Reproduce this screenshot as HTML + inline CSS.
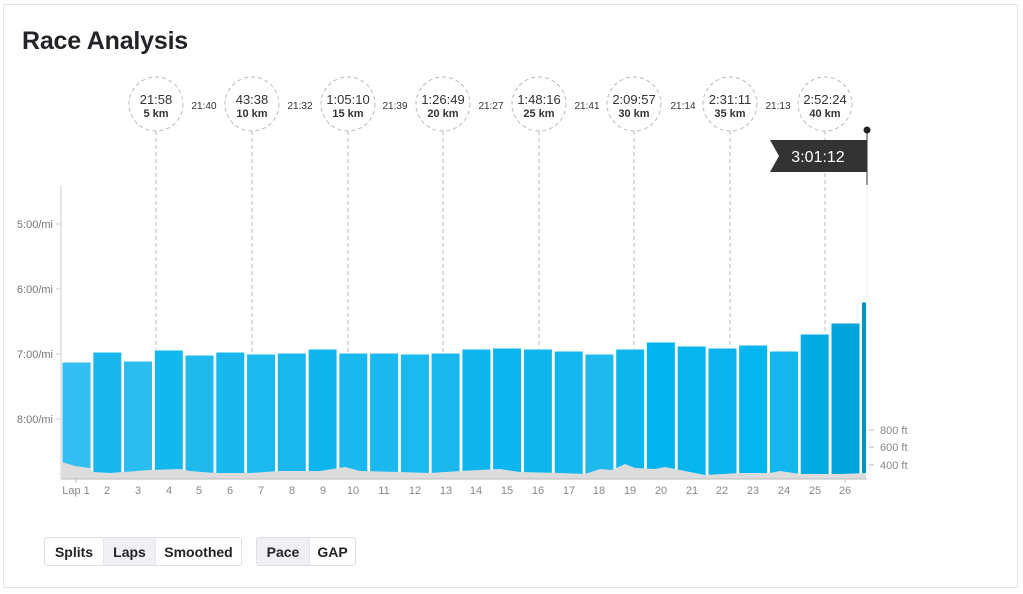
<!DOCTYPE html>
<html><head><meta charset="utf-8"><style>
body{margin:0;background:#fff;font-family:"Liberation Sans",sans-serif;}
.card{position:absolute;left:3px;top:4px;width:1013px;height:582px;border:1px solid #e4e4ea;}
h1{position:absolute;left:22px;top:27px;margin:0;font-size:25px;font-weight:bold;color:#242428;letter-spacing:-0.2px;}
.bg{position:absolute;top:537px;height:27px;border:1px solid #dfdfe5;border-radius:3px;display:flex;font-size:14px;font-weight:bold;color:#242428;}
.bg div{display:flex;align-items:center;justify-content:center;border-right:1px solid #e6e6ea;}
.bg div:last-child{border-right:none}
.on{background:#f0f0f4}
</style></head><body>
<div class="card"></div>
<h1>Race Analysis</h1>
<svg width="1023" height="594" style="position:absolute;left:0;top:0" font-family="Liberation Sans, sans-serif">
<g fill="none" stroke="#bbb" stroke-dasharray="4,3">
<circle cx="156" cy="104" r="27"/><circle cx="252" cy="104" r="27"/><circle cx="348" cy="104" r="27"/><circle cx="443" cy="104" r="27"/><circle cx="539" cy="104" r="27"/><circle cx="634" cy="104" r="27"/><circle cx="730" cy="104" r="27"/><circle cx="825" cy="104" r="27"/>
<line x1="156" y1="131" x2="156" y2="350"/><line x1="252" y1="131" x2="252" y2="354"/><line x1="348" y1="131" x2="348" y2="353"/><line x1="443" y1="131" x2="443" y2="353"/><line x1="539" y1="131" x2="539" y2="349"/><line x1="634" y1="131" x2="634" y2="349"/><line x1="730" y1="131" x2="730" y2="348"/><line x1="825" y1="131" x2="825" y2="334"/>
</g>
<g text-anchor="middle" fill="#333">
<g font-size="13"><text x="156" y="104">21:58</text><text x="252" y="104">43:38</text><text x="348" y="104">1:05:10</text><text x="443" y="104">1:26:49</text><text x="539" y="104">1:48:16</text><text x="634" y="104">2:09:57</text><text x="730" y="104">2:31:11</text><text x="825" y="104">2:52:24</text></g>
<g font-size="11" font-weight="bold"><text x="156" y="117">5 km</text><text x="252" y="117">10 km</text><text x="348" y="117">15 km</text><text x="443" y="117">20 km</text><text x="539" y="117">25 km</text><text x="634" y="117">30 km</text><text x="730" y="117">35 km</text><text x="825" y="117">40 km</text></g>
<g font-size="10"><text x="204" y="109">21:40</text><text x="300" y="109">21:32</text><text x="395" y="109">21:39</text><text x="491" y="109">21:27</text><text x="587" y="109">21:41</text><text x="683" y="109">21:14</text><text x="778" y="109">21:13</text></g>
</g>
<polygon points="770,140 867,140 867,172 770,172 779,156" fill="#333"/>
<text x="818" y="162" font-size="16" fill="#fff" text-anchor="middle">3:01:12</text>
<line x1="867" y1="130" x2="867" y2="185" stroke="#333"/>
<line x1="867" y1="185" x2="867" y2="479" stroke="#eee"/>
<circle cx="867" cy="130" r="3.5" fill="#222"/>
<line x1="61" y1="185" x2="61" y2="479" stroke="#ccc"/>
<g font-size="11" fill="#777" text-anchor="end">
<text x="53" y="228">5:00/mi</text><text x="53" y="293">6:00/mi</text><text x="53" y="358">7:00/mi</text><text x="53" y="423">8:00/mi</text></g>
<g stroke="#ccc"><line x1="56" y1="224" x2="61" y2="224"/><line x1="56" y1="289" x2="61" y2="289"/><line x1="56" y1="354" x2="61" y2="354"/><line x1="56" y1="419" x2="61" y2="419"/></g>
<g stroke="#fff" stroke-width="1">
<rect x="62" y="362" width="29" height="117" fill="#33bdf0"/>
<rect x="92.8" y="352" width="29" height="127" fill="#18b8ee"/>
<rect x="123.5" y="361" width="29" height="118" fill="#2bbcf0"/>
<rect x="154.3" y="350" width="29" height="129" fill="#12b7ee"/>
<rect x="185" y="355" width="29" height="124" fill="#1fb9ee"/>
<rect x="215.8" y="352" width="29" height="127" fill="#18b8ee"/>
<rect x="246.6" y="354" width="29" height="125" fill="#1cb9ee"/>
<rect x="277.3" y="353" width="29" height="126" fill="#1ab8ee"/>
<rect x="308.1" y="349" width="29" height="130" fill="#0fb6ee"/>
<rect x="338.8" y="353" width="29" height="126" fill="#1ab8ee"/>
<rect x="369.6" y="353" width="29" height="126" fill="#1ab8ee"/>
<rect x="400.4" y="354" width="29" height="125" fill="#1cb9ee"/>
<rect x="431.1" y="353" width="29" height="126" fill="#1ab8ee"/>
<rect x="461.9" y="349" width="29" height="130" fill="#0fb6ee"/>
<rect x="492.6" y="348" width="29" height="131" fill="#0cb6ee"/>
<rect x="523.4" y="349" width="29" height="130" fill="#0fb6ee"/>
<rect x="554.2" y="351" width="29" height="128" fill="#14b7ee"/>
<rect x="584.9" y="354" width="29" height="125" fill="#1fb9ee"/>
<rect x="615.7" y="349" width="29" height="130" fill="#0fb6ee"/>
<rect x="646.4" y="342" width="29" height="137" fill="#02b4ee"/>
<rect x="677.2" y="346" width="29" height="133" fill="#06b5ee"/>
<rect x="708" y="348" width="29" height="131" fill="#0ab5ee"/>
<rect x="738.7" y="345" width="29" height="134" fill="#04b5ee"/>
<rect x="769.5" y="351" width="29" height="128" fill="#14b7ee"/>
<rect x="800.2" y="334" width="29" height="145" fill="#02aae2"/>
<rect x="831" y="323" width="29" height="156" fill="#02a3da"/>
<rect x="861.5" y="302" width="5" height="177" fill="#0093c8"/>
</g>
<polygon fill="#dcdcdc" points="62,462 75,466 90,468 93,472 110,473 150,470 180,469 190,471 215,473 250,473 280,471 320,471 345,467 360,471 400,472 430,473 460,471 500,469 520,472 560,473 585,474 600,469 612,470 625,464 635,468 655,469 665,467 690,472 705,475 740,473 770,473 780,471 800,474 840,474 866,473 866,479 62,479"/>
<line x1="61" y1="479" x2="867" y2="479" stroke="#bbb"/>
<g font-size="11" fill="#888" text-anchor="middle">
<text x="76" y="494">Lap 1</text><text x="107" y="494">2</text><text x="138" y="494">3</text><text x="169" y="494">4</text><text x="199" y="494">5</text><text x="230" y="494">6</text><text x="261" y="494">7</text><text x="292" y="494">8</text><text x="323" y="494">9</text><text x="353" y="494">10</text><text x="384" y="494">11</text><text x="415" y="494">12</text><text x="446" y="494">13</text><text x="476" y="494">14</text><text x="507" y="494">15</text><text x="538" y="494">16</text><text x="569" y="494">17</text><text x="599" y="494">18</text><text x="630" y="494">19</text><text x="661" y="494">20</text><text x="692" y="494">21</text><text x="722" y="494">22</text><text x="753" y="494">23</text><text x="784" y="494">24</text><text x="815" y="494">25</text><text x="845" y="494">26</text></g>
<g stroke="#bbb"><line x1="76" y1="479" x2="76" y2="483"/><line x1="845" y1="479" x2="845" y2="483"/></g>
<g font-size="11" fill="#888"><text x="880" y="434">800 ft</text><text x="880" y="451">600 ft</text><text x="880" y="469">400 ft</text></g>
<g stroke="#bbb"><line x1="869" y1="430" x2="874" y2="430"/><line x1="869" y1="447" x2="874" y2="447"/><line x1="869" y1="465" x2="874" y2="465"/></g>
</svg>
<div class="bg" style="left:44px;width:196px"><div style="width:58px">Splits</div><div class="on" style="width:51px">Laps</div><div style="flex:1">Smoothed</div></div>
<div class="bg" style="left:256px;width:98px"><div class="on" style="width:52px">Pace</div><div style="flex:1">GAP</div></div>
</body></html>
